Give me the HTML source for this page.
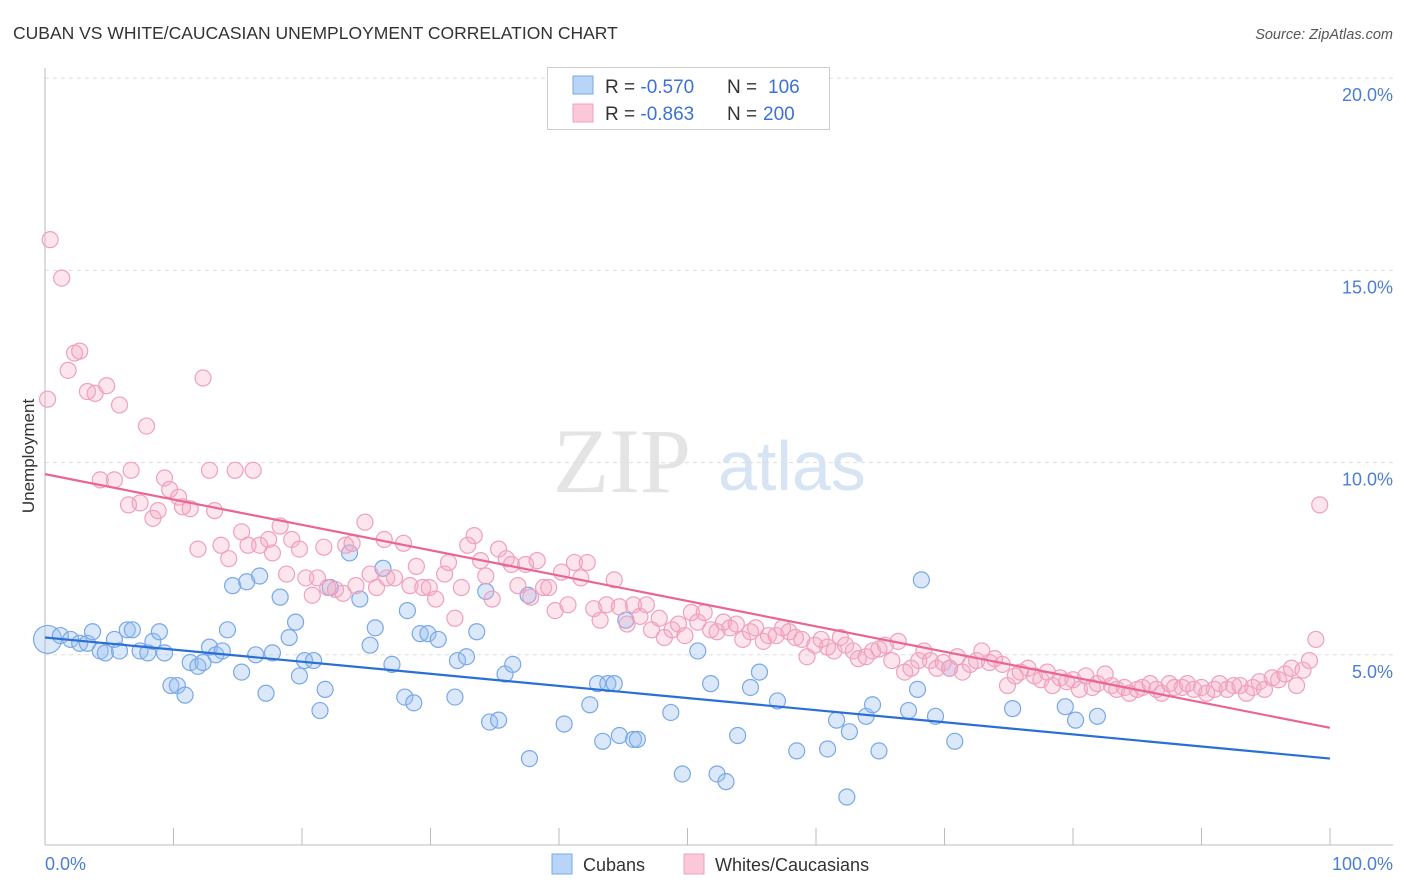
<!DOCTYPE html>
<html><head><meta charset="utf-8"><style>
body{margin:0;background:#fff;font-family:"Liberation Sans",sans-serif;}
svg{display:block}
</style></head><body>
<svg id="chart" width="1406" height="892">
<text x="13" y="39" font-size="17.5" fill="#333">CUBAN VS WHITE/CAUCASIAN UNEMPLOYMENT CORRELATION CHART</text>
<text x="1393" y="39" font-size="14.5" fill="#555" font-style="italic" text-anchor="end">Source: ZipAtlas.com</text>
<text x="34" y="456" font-size="17" fill="#333" text-anchor="middle" transform="rotate(-90 34 456)">Unemployment</text>
<g>
<text x="553" y="492" font-size="92" fill="#e4e4e4" font-family="Liberation Serif,serif">ZIP</text>
<text x="718" y="490" font-size="70" fill="#d6e4f4">atlas</text>
</g>
<g id="grid"></g>
<g id="axes"></g>
<g id="marks"></g>
<g>
<rect x="547.5" y="67.5" width="282" height="62" fill="#fff" stroke="#ccc"/>
<rect x="573" y="76" width="20" height="18" fill="#b8d4f6" stroke="#7aa8e6"/>
<rect x="573" y="104" width="20" height="18" fill="#fac8d8" stroke="#f0a0bc"/>
<text x="605" y="93" font-size="19" fill="#333">R = <tspan fill="#3a72d8">-0.570</tspan><tspan x="727">N = </tspan><tspan fill="#3a72d8" x="768">106</tspan></text>
<text x="605" y="120" font-size="19" fill="#333">R = <tspan fill="#3a72d8">-0.863</tspan><tspan x="727">N = </tspan><tspan fill="#3a72d8" x="763">200</tspan></text>
</g>
<g>
<rect x="552" y="854" width="20" height="20" fill="#b8d4f6" stroke="#7aa8e6"/>
<text x="583" y="871" font-size="18" fill="#333">Cubans</text>
<rect x="684" y="854" width="20" height="20" fill="#fac8d8" stroke="#f0a0bc"/>
<text x="715" y="871" font-size="18" fill="#333">Whites/Caucasians</text>
</g>
</svg>
<script>
const yTicks=[5,10,15,20];
const yTickLabels=["5.0%","10.0%","15.0%","20.0%"];
const xTicks=[0,10,20,30,40,50,60,70,80,90,100];
const cubanX=[0.2,1.2,2.0,2.7,3.3,3.7,4.3,4.7,5.4,5.8,6.4,6.8,7.4,8.0,8.4,8.9,9.3,9.8,10.3,10.9,11.3,11.9,12.3,12.8,13.3,13.8,14.2,15.3,14.6,15.7,16.7,16.4,17.2,17.7,18.3,19.0,19.5,19.8,20.2,20.9,21.4,21.8,22.2,23.7,24.5,25.3,25.7,26.3,27.0,28.0,28.2,28.7,29.2,29.8,30.6,31.9,32.1,32.8,33.6,34.3,34.6,35.3,35.8,36.4,37.6,37.7,40.4,42.4,43.0,43.4,43.8,44.3,44.7,45.2,45.8,46.1,48.7,49.6,50.8,51.8,52.3,53.0,53.9,54.9,55.6,57.0,58.5,60.9,61.6,62.4,62.6,63.9,64.4,64.9,67.2,67.9,68.2,69.3,70.4,70.8,75.3,79.4,80.2,81.9];
const cubanY=[5.4,5.5,5.4,5.3,5.3,5.6,5.1,5.05,5.4,5.1,5.65,5.65,5.1,5.05,5.35,5.6,5.05,4.2,4.2,3.95,4.8,4.7,4.8,5.2,5.0,5.1,5.65,4.55,6.8,6.9,7.05,5.0,4.0,5.05,6.5,5.45,5.85,4.45,4.85,4.85,3.55,4.1,6.75,7.65,6.45,5.25,5.7,7.25,4.75,3.9,6.15,3.75,5.55,5.55,5.4,3.9,4.85,4.95,5.6,6.65,3.25,3.3,4.5,4.75,6.55,2.3,3.2,3.7,4.25,2.75,4.25,4.25,2.9,5.9,2.8,2.8,3.5,1.9,5.1,4.25,1.9,1.7,2.9,4.15,4.55,3.8,2.5,2.55,3.3,1.3,3.0,3.4,3.7,2.5,3.55,4.1,6.95,3.4,4.65,2.75,3.6,3.65,3.3,3.4];
const whiteX=[0.4,1.3,0.2,1.8,2.3,2.7,3.3,3.9,4.8,5.8,7.9,12.3,4.3,5.4,6.5,6.7,7.4,8.4,8.8,9.3,9.7,10.4,10.7,11.3,11.9,12.8,13.2,13.7,14.3,14.8,15.3,15.8,16.2,16.7,17.4,17.7,18.3,18.8,19.2,19.8,20.3,20.8,21.2,21.7,22.0,22.6,23.2,23.4,23.9,24.2,24.9,25.3,25.8,26.4,26.6,27.2,27.9,28.4,28.9,29.4,29.9,30.4,31.1,31.4,31.9,32.4,32.9,33.4,33.9,34.3,34.8,35.3,35.9,36.3,36.8,37.4,37.8,38.3,38.8,39.2,39.7,40.2,40.7,41.2,41.7,42.2,42.7,43.2,43.7,44.3,44.7,45.3,45.8,46.3,46.8,47.2,47.8,48.2,48.8,49.3,49.8,50.3,50.8,51.3,51.8,52.3,52.8,53.3,53.8,54.3,54.9,55.3,55.9,56.3,56.9,57.4,57.9,58.4,58.9,59.3,59.9,60.4,60.9,61.4,61.9,62.3,62.9,63.3,63.9,64.4,64.9,65.4,65.9,66.4,66.9,67.4,68.0,68.4,68.9,69.4,69.9,70.4,71.0,71.4,72.0,72.5,72.9,73.5,73.9,74.5,74.9,75.5,75.9,76.5,77.0,77.5,78.0,78.4,79.0,79.5,80.0,80.5,81.0,81.5,81.9,82.5,83.0,83.4,84.0,84.4,85.0,85.4,86.0,86.5,86.9,87.5,87.9,88.5,88.9,89.4,90.0,90.4,91.0,91.4,92.0,92.5,93.0,93.5,94.0,94.5,94.9,95.5,96.0,96.5,97.0,97.4,97.9,98.4,98.9,99.2];
const whiteY=[15.8,14.8,11.65,12.4,12.85,12.9,11.85,11.8,12.0,11.5,10.95,12.2,9.55,9.55,8.9,9.8,8.95,8.55,8.75,9.6,9.3,9.1,8.85,8.8,7.75,9.8,8.75,7.85,7.5,9.8,8.2,7.85,9.8,7.85,8.0,7.65,8.35,7.1,8.0,7.75,7.0,6.55,7.0,7.8,6.75,6.7,6.6,7.85,7.9,6.8,8.45,7.1,6.75,8.0,7.0,7.0,7.9,6.8,7.3,6.75,6.75,6.45,7.1,7.4,5.95,6.75,7.85,8.1,7.45,7.05,6.45,7.75,7.5,7.35,6.8,7.35,6.5,7.45,6.75,6.75,6.15,7.15,6.3,7.4,7.0,7.4,6.2,5.9,6.3,6.95,6.25,5.8,6.3,6.0,6.3,5.65,5.95,5.45,5.65,5.8,5.5,6.1,5.85,6.1,5.65,5.6,5.85,5.7,5.8,5.4,5.6,5.7,5.35,5.5,5.5,5.7,5.6,5.45,5.4,4.95,5.25,5.4,5.2,5.1,5.45,5.25,5.1,4.9,4.95,5.1,5.15,5.25,4.85,5.35,4.55,4.65,4.85,5.1,4.85,4.65,4.8,4.65,4.95,4.55,4.75,4.85,5.1,4.8,4.9,4.75,4.2,4.45,4.55,4.65,4.45,4.35,4.55,4.2,4.4,4.3,4.35,4.1,4.45,4.15,4.25,4.5,4.2,4.1,4.15,4.0,4.1,4.15,4.25,4.1,4.0,4.25,4.15,4.15,4.25,4.1,4.15,4.0,4.1,4.25,4.1,4.2,4.2,4.0,4.15,4.3,4.1,4.4,4.35,4.5,4.65,4.2,4.6,4.85,5.4,8.9];
const cubanTrend=[5.45,2.3];   // y at x=0 and x=100
const whiteTrend=[9.7,3.1];

const NS="http://www.w3.org/2000/svg";
const X0=45,X1=1330,Y0=847,PX5=192.2;
const sx=v=>X0+(X1-X0)*v/100;
const sy=v=>Y0-PX5*v/5;
function mk(tag,attrs,parent){const e=document.createElementNS(NS,tag);for(const k in attrs)e.setAttribute(k,attrs[k]);parent.appendChild(e);return e;}
const grid=document.getElementById('grid'),axes=document.getElementById('axes'),marks=document.getElementById('marks');
yTicks.forEach((t,i)=>{
 const l=mk('line',{x1:45,x2:1393,y1:sy(t),y2:sy(t),stroke:'#ddd','stroke-dasharray':'4,4'},grid);
 
 
 const tx=mk('text',{x:1393,y:sy(t)+23,'font-size':18,fill:'#4a7fd4','text-anchor':'end'},grid);
 tx.textContent=yTickLabels[i];
 
 
});
const ya=mk('line',{x1:45,x2:45,y1:68,y2:845,stroke:'#bbb'},axes);


const xa=mk('line',{x1:45,x2:1393,y1:845,y2:845,stroke:'#bbb'},axes);


xTicks.forEach(t=>{
 const l=mk('line',{x1:sx(t),x2:sx(t),y1:828,y2:845,stroke:'#bbb'},axes);
 
 
});
const xl0=mk('text',{x:45,y:870,'font-size':18,fill:'#4a7fd4'},axes);xl0.textContent='0.0%';


const xl1=mk('text',{x:1393,y:870,'font-size':18,fill:'#4a7fd4','text-anchor':'end'},axes);xl1.textContent='100.0%';


cubanX.forEach((x,i)=>{
 const c=mk('circle',{cx:sx(x),cy:sy(cubanY[i]),r:i==0?14:8,fill:'rgba(150,190,240,0.35)',stroke:'#7aa8e6','stroke-width':1.2},marks);
 
 
});
whiteX.forEach((x,i)=>{
 const c=mk('circle',{cx:sx(x),cy:sy(whiteY[i]),r:8,fill:'rgba(245,170,195,0.3)',stroke:'#f0a0bc','stroke-width':1.2},marks);
 
 
});
const tb=mk('line',{x1:sx(0),y1:sy(cubanTrend[0]),x2:sx(100),y2:sy(cubanTrend[1]),stroke:'#2a6fd6','stroke-width':2.2},marks);


const tp=mk('line',{x1:sx(0),y1:sy(whiteTrend[0]),x2:sx(100),y2:sy(whiteTrend[1]),stroke:'#ea6690','stroke-width':2.2},marks);


</script>
</body></html>
